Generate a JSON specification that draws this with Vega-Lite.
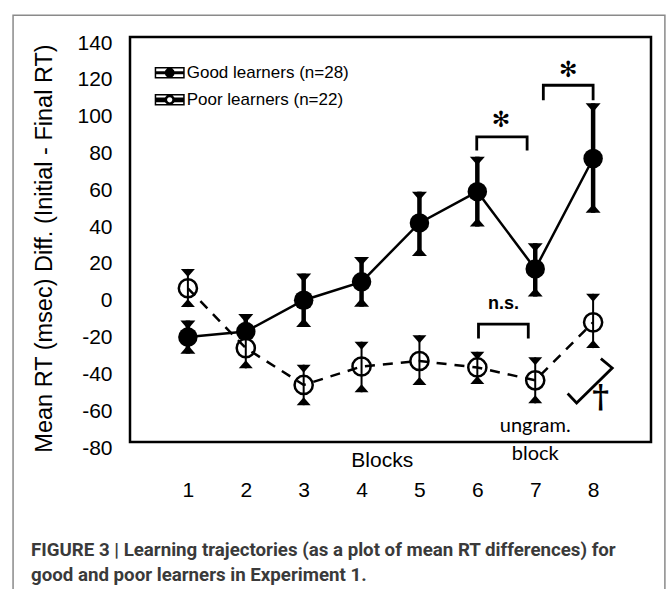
{
  "$schema": "https://vega.github.io/schema/vega-lite/v6.json",
  "width": 521,
  "height": 405,
  "autosize": "none",
  "padding": {"left": 130, "top": 37, "right": 20, "bottom": 147},
  "background": "white",
  "resolve": {"axis": {"x": "independent", "y": "independent"}},
  "config": {
    "view": {"stroke": "black", "strokeWidth": 2.5},
    "font": "Liberation Sans",
    "axis": {"domain": false, "ticks": false, "tickSize": 0, "grid": false, "labelColor": "black", "titleColor": "black", "labelOverlap": false}
  },
  "datasets": {
    "means": [
      {"group": "Good", "block": 1, "mean": -23, "lo": -32, "hi": -14},
      {"group": "Good", "block": 2, "mean": -20, "lo": -30, "hi": -10.5},
      {"group": "Good", "block": 3, "mean": -3, "lo": -17.5, "hi": 11.5},
      {"group": "Good", "block": 4, "mean": 7, "lo": -6.5, "hi": 20.5},
      {"group": "Good", "block": 5, "mean": 39, "lo": 21, "hi": 56},
      {"group": "Good", "block": 6, "mean": 56, "lo": 37, "hi": 75},
      {"group": "Good", "block": 7, "mean": 14, "lo": -1, "hi": 28},
      {"group": "Good", "block": 8, "mean": 74, "lo": 44.5, "hi": 104},
      {"group": "Poor", "block": 1, "mean": 3.5, "lo": -6.7, "hi": 14},
      {"group": "Poor", "block": 2, "mean": -29, "lo": -40, "hi": -18},
      {"group": "Poor", "block": 3, "mean": -49, "lo": -60, "hi": -38},
      {"group": "Poor", "block": 4, "mean": -39, "lo": -53, "hi": -25.5},
      {"group": "Poor", "block": 5, "mean": -36, "lo": -49, "hi": -22},
      {"group": "Poor", "block": 6, "mean": -39.5, "lo": -48.5, "hi": -31},
      {"group": "Poor", "block": 7, "mean": -46.5, "lo": -59, "hi": -34},
      {"group": "Poor", "block": 8, "mean": -15, "lo": -29, "hi": 0.5}
    ],
    "brackets": [
      {"id": "a", "i": 1, "x": 5.99, "y": 78.4},
      {"id": "a", "i": 2, "x": 5.99, "y": 85.7},
      {"id": "a", "i": 3, "x": 6.86, "y": 85.7},
      {"id": "a", "i": 4, "x": 6.86, "y": 78.4},
      {"id": "b", "i": 1, "x": 7.14, "y": 105.6},
      {"id": "b", "i": 2, "x": 7.14, "y": 113.8},
      {"id": "b", "i": 3, "x": 8.0, "y": 113.8},
      {"id": "b", "i": 4, "x": 8.0, "y": 105.6},
      {"id": "c", "i": 1, "x": 6.02, "y": -23.8},
      {"id": "c", "i": 2, "x": 6.02, "y": -16},
      {"id": "c", "i": 3, "x": 6.88, "y": -16},
      {"id": "c", "i": 4, "x": 6.88, "y": -23.8},
      {"id": "d", "i": 1, "x": 8.134, "y": -34.7},
      {"id": "d", "i": 2, "x": 8.33, "y": -39.8},
      {"id": "d", "i": 3, "x": 7.715, "y": -58.8},
      {"id": "d", "i": 4, "x": 7.56, "y": -53.7}
    ],
    "stars": [
      {"t": "✻", "x": 6.41, "y": 94.8},
      {"t": "✻", "x": 7.57, "y": 121.9}
    ],
    "ns": [{"t": "n.s.", "x": 6.45, "y": -5.2}],
    "dagger": [{"t": "†", "x": 8.13, "y": -55.6}],
    "ungram": [
      {"t": "ungram.", "x": 7, "y": -74.7},
      {"t": "block", "x": 7, "y": -89.9}
    ],
    "caption": [
      {"t": "FIGURE 3 | Learning trajectories (as a plot of mean RT differences) for", "x": -1.71, "y": -142.1},
      {"t": "good and poor learners in Experiment 1.", "x": -1.71, "y": -155.7}
    ],
    "legend": [
      {"g": "Good learners (n=28)"},
      {"g": "Poor learners (n=22)"}
    ]
  },
  "layer": [
    {
      "data": {"values": [{}]},
      "mark": {"type": "rect", "filled": false, "color": "#8a8a8a", "strokeWidth": 1.5},
      "encoding": {
        "x": {"datum": -2.02, "type": "quantitative", "scale": {"domain": [0, 9], "nice": false, "zero": false}, "axis": null},
        "x2": {"datum": 9.24},
        "y": {"datum": 151.8, "type": "quantitative", "scale": {"domain": [-80, 140], "nice": false, "zero": false}, "axis": null},
        "y2": {"datum": -177}
      }
    },
    {
      "data": {"name": "means"},
      "transform": [{"filter": "datum.group === 'Good'"}],
      "mark": {"type": "rule", "color": "black", "strokeWidth": 4.5},
      "encoding": {
        "x": {"field": "block", "type": "quantitative", "scale": {"domain": [0, 9], "nice": false, "zero": false},
          "axis": {"values": [1, 2, 3, 4, 5, 6, 7, 8], "format": "d", "title": "Blocks", "labelFontSize": 21, "labelBaseline": "alphabetic", "labelPadding": 54.5, "labelFlush": false, "labelOverlap": false,
            "titleFontSize": 21, "titleFontWeight": "normal", "titleBaseline": "alphabetic", "titleAlign": "center", "titleX": 251.7, "titleY": 24}},
        "y": {"field": "lo", "type": "quantitative", "scale": {"domain": [-80, 140], "nice": false, "zero": false},
          "axis": {"values": [-80, -60, -40, -20, 0, 20, 40, 60, 80, 100, 120, 140], "format": "d", "labelExpr": "replace(datum.label, '−', '-')", "title": "Mean RT  (msec) Diff.  (Initial - Final RT)", "labelFontSize": 21, "labelPadding": 18, "labelOffset": 6, "labelFlush": false, "labelOverlap": false, "labelBound": false,
            "titleFontSize": 23.5, "titleFontWeight": "normal", "titleAngle": 270, "titleBaseline": "middle", "titleAlign": "center", "titleX": -85.5, "titleY": 211}},
        "y2": {"field": "hi"}
      }
    },
    {
      "data": {"name": "means"},
      "transform": [{"filter": "datum.group === 'Good'"}],
      "mark": {"type": "point", "filled": true, "color": "black", "strokeWidth": 0, "size": 225, "shape": "M-1,0L1,0L0,1.15Z", "opacity": 1},
      "encoding": {
        "x": {"field": "block", "type": "quantitative", "scale": {"domain": [0, 9], "nice": false, "zero": false}, "axis": null},
        "y": {"field": "hi", "type": "quantitative", "scale": {"domain": [-80, 140], "nice": false, "zero": false}, "axis": null}
      }
    },
    {
      "data": {"name": "means"},
      "transform": [{"filter": "datum.group === 'Good'"}],
      "mark": {"type": "point", "filled": true, "color": "black", "strokeWidth": 0, "size": 225, "shape": "M-1,0L1,0L0,-1.15Z", "opacity": 1},
      "encoding": {
        "x": {"field": "block", "type": "quantitative", "scale": {"domain": [0, 9], "nice": false, "zero": false}, "axis": null},
        "y": {"field": "lo", "type": "quantitative", "scale": {"domain": [-80, 140], "nice": false, "zero": false}, "axis": null}
      }
    },
    {
      "data": {"name": "means"},
      "transform": [{"filter": "datum.group === 'Good'"}],
      "mark": {"type": "line", "color": "black", "strokeWidth": 2.5},
      "encoding": {
        "x": {"field": "block", "type": "quantitative", "scale": {"domain": [0, 9], "nice": false, "zero": false}, "axis": null},
        "y": {"field": "mean", "type": "quantitative", "scale": {"domain": [-80, 140], "nice": false, "zero": false}, "axis": null}
      }
    },
    {
      "data": {"name": "means"},
      "transform": [{"filter": "datum.group === 'Good'"}],
      "mark": {"type": "point", "shape": "circle", "filled": true, "color": "black", "size": 380, "opacity": 1},
      "encoding": {
        "x": {"field": "block", "type": "quantitative", "scale": {"domain": [0, 9], "nice": false, "zero": false}, "axis": null},
        "y": {"field": "mean", "type": "quantitative", "scale": {"domain": [-80, 140], "nice": false, "zero": false}, "axis": null}
      }
    },
    {
      "data": {"name": "means"},
      "transform": [{"filter": "datum.group === 'Poor'"}],
      "mark": {"type": "point", "shape": "circle", "filled": false, "fill": "white", "fillOpacity": 1, "stroke": "black", "strokeWidth": 2.5, "size": 330, "opacity": 1},
      "encoding": {
        "x": {"field": "block", "type": "quantitative", "scale": {"domain": [0, 9], "nice": false, "zero": false}, "axis": null},
        "y": {"field": "mean", "type": "quantitative", "scale": {"domain": [-80, 140], "nice": false, "zero": false}, "axis": null}
      }
    },
    {
      "data": {"name": "means"},
      "transform": [{"filter": "datum.group === 'Poor'"}],
      "mark": {"type": "line", "color": "black", "strokeWidth": 2.5, "strokeDash": [10, 8]},
      "encoding": {
        "x": {"field": "block", "type": "quantitative", "scale": {"domain": [0, 9], "nice": false, "zero": false}, "axis": null},
        "y": {"field": "mean", "type": "quantitative", "scale": {"domain": [-80, 140], "nice": false, "zero": false}, "axis": null}
      }
    },
    {
      "data": {"name": "means"},
      "transform": [{"filter": "datum.group === 'Poor'"}],
      "mark": {"type": "rule", "color": "black", "strokeWidth": 2},
      "encoding": {
        "x": {"field": "block", "type": "quantitative", "scale": {"domain": [0, 9], "nice": false, "zero": false}, "axis": null},
        "y": {"field": "lo", "type": "quantitative", "scale": {"domain": [-80, 140], "nice": false, "zero": false}, "axis": null},
        "y2": {"field": "hi"}
      }
    },
    {
      "data": {"name": "means"},
      "transform": [{"filter": "datum.group === 'Poor'"}],
      "mark": {"type": "point", "filled": true, "color": "black", "strokeWidth": 0, "size": 196, "shape": "M-1,0L1,0L0,1.15Z", "opacity": 1},
      "encoding": {
        "x": {"field": "block", "type": "quantitative", "scale": {"domain": [0, 9], "nice": false, "zero": false}, "axis": null},
        "y": {"field": "hi", "type": "quantitative", "scale": {"domain": [-80, 140], "nice": false, "zero": false}, "axis": null}
      }
    },
    {
      "data": {"name": "means"},
      "transform": [{"filter": "datum.group === 'Poor'"}],
      "mark": {"type": "point", "filled": true, "color": "black", "strokeWidth": 0, "size": 196, "shape": "M-1,0L1,0L0,-1.15Z", "opacity": 1},
      "encoding": {
        "x": {"field": "block", "type": "quantitative", "scale": {"domain": [0, 9], "nice": false, "zero": false}, "axis": null},
        "y": {"field": "lo", "type": "quantitative", "scale": {"domain": [-80, 140], "nice": false, "zero": false}, "axis": null}
      }
    },
    {
      "data": {"name": "brackets"},
      "mark": {"type": "line", "color": "black", "strokeWidth": 2.8, "strokeJoin": "miter"},
      "encoding": {
        "x": {"field": "x", "type": "quantitative", "scale": {"domain": [0, 9], "nice": false, "zero": false}, "axis": null},
        "y": {"field": "y", "type": "quantitative", "scale": {"domain": [-80, 140], "nice": false, "zero": false}, "axis": null},
        "detail": {"field": "id"},
        "order": {"field": "i"}
      }
    },
    {
      "data": {"name": "stars"},
      "mark": {"type": "text", "font": "DejaVu Sans", "fontSize": 22, "color": "black", "align": "center", "baseline": "middle"},
      "encoding": {
        "x": {"field": "x", "type": "quantitative", "scale": {"domain": [0, 9], "nice": false, "zero": false}, "axis": null},
        "y": {"field": "y", "type": "quantitative", "scale": {"domain": [-80, 140], "nice": false, "zero": false}, "axis": null},
        "text": {"field": "t"}
      }
    },
    {
      "data": {"name": "ns"},
      "mark": {"type": "text", "font": "Liberation Sans", "fontWeight": "bold", "fontSize": 18, "color": "black", "align": "center", "baseline": "middle"},
      "encoding": {
        "x": {"field": "x", "type": "quantitative", "scale": {"domain": [0, 9], "nice": false, "zero": false}, "axis": null},
        "y": {"field": "y", "type": "quantitative", "scale": {"domain": [-80, 140], "nice": false, "zero": false}, "axis": null},
        "text": {"field": "t"}
      }
    },
    {
      "data": {"name": "dagger"},
      "mark": {"type": "text", "font": "DejaVu Serif", "fontWeight": "bold", "fontSize": 32, "color": "black", "align": "center", "baseline": "middle"},
      "encoding": {
        "x": {"field": "x", "type": "quantitative", "scale": {"domain": [0, 9], "nice": false, "zero": false}, "axis": null},
        "y": {"field": "y", "type": "quantitative", "scale": {"domain": [-80, 140], "nice": false, "zero": false}, "axis": null},
        "text": {"field": "t"}
      }
    },
    {
      "data": {"name": "ungram"},
      "mark": {"type": "text", "font": "Lato", "fontSize": 20, "color": "black", "align": "center", "baseline": "alphabetic"},
      "encoding": {
        "x": {"field": "x", "type": "quantitative", "scale": {"domain": [0, 9], "nice": false, "zero": false}, "axis": null},
        "y": {"field": "y", "type": "quantitative", "scale": {"domain": [-80, 140], "nice": false, "zero": false}, "axis": null},
        "text": {"field": "t"}
      }
    },
    {
      "data": {"name": "caption"},
      "mark": {"type": "text", "font": "Roboto", "fontWeight": "bold", "fontSize": 18.7, "color": "#3a3a3a", "align": "left", "baseline": "alphabetic"},
      "encoding": {
        "x": {"field": "x", "type": "quantitative", "scale": {"domain": [0, 9], "nice": false, "zero": false}, "axis": null},
        "y": {"field": "y", "type": "quantitative", "scale": {"domain": [-80, 140], "nice": false, "zero": false}, "axis": null},
        "text": {"field": "t"}
      }
    },
    {
      "data": {"name": "legend"},
      "mark": {"type": "point", "filled": true, "color": "black", "size": 576, "opacity": 1},
      "encoding": {
        "x": {"field": "nx", "type": "quantitative", "scale": {"domain": [0, 9], "nice": false, "zero": false}, "axis": null},
        "y": {"field": "ny", "type": "quantitative", "scale": {"domain": [-80, 140], "nice": false, "zero": false}, "axis": null},
        "shape": {
          "field": "g", "type": "nominal",
          "scale": {
            "domain": ["Good learners (n=28)", "Poor learners (n=22)"],
            "range": [
              "M-1.25,-0.483L1.25,-0.483L1.25,0.483L-1.25,0.483Z M-1.125,-0.358L-1.125,0.358L1.125,0.358L1.125,-0.358Z M-1.125,-0.125L1.125,-0.125L1.125,0.125L-1.125,0.125Z M0.42,0L0.364,0.21L0.21,0.364L0,0.42L-0.21,0.364L-0.364,0.21L-0.42,0L-0.364,-0.21L-0.21,-0.364L0,-0.42L0.21,-0.364L0.364,-0.21Z",
              "M-1.25,-0.483L1.25,-0.483L1.25,0.483L-1.25,0.483Z M-1.125,-0.358L-1.125,0.358L1.125,0.358L1.125,-0.358Z M-1.125,-0.2L-0.3,-0.2L-0.3,0.2L-1.125,0.2Z M0.3,-0.2L1.125,-0.2L1.125,0.2L0.3,0.2Z M0.44,0L0.381,0.22L0.22,0.381L0,0.44L-0.22,0.381L-0.381,0.22L-0.44,0L-0.381,-0.22L-0.22,-0.381L0,-0.44L0.22,-0.381L0.381,-0.22Z M0.22,0L0.191,-0.11L0.11,-0.191L0,-0.22L-0.11,-0.191L-0.191,-0.11L-0.22,0L-0.191,0.11L-0.11,0.191L0,0.22L0.11,0.191L0.191,0.11Z"
            ]
          },
          "legend": {
            "title": null, "orient": "none", "legendX": 27.7, "legendY": 23.8,
            "labelFont": "Liberation Sans", "labelFontSize": 17, "labelColor": "black", "labelOffset": 5, "labelLimit": 400,
            "rowPadding": 7, "padding": 0, "symbolSize": 576, "symbolFillColor": "black",
            "symbolStrokeWidth": 0, "symbolOpacity": 1
          }
        }
      }
    }
  ]
}
